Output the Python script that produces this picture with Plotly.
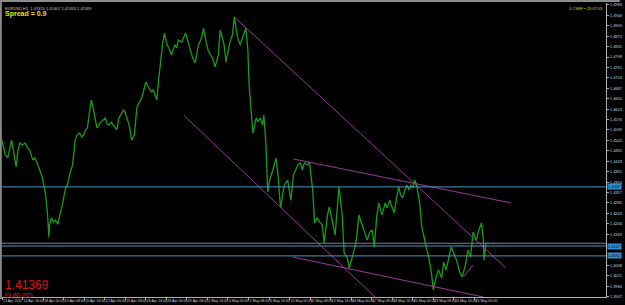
import plotly.graph_objects as go

# ---- data (bar index in H1 bars, price) ----
bars = [0, 3, 5, 9, 12, 15, 19, 22, 25, 28, 32, 36, 40, 43, 48, 51, 56, 60, 63, 68, 71, 73, 74, 77, 80, 83, 87, 90, 94, 99,
        102, 105, 110, 114, 117, 121, 124, 127, 130, 133, 136, 139, 142, 144, 148, 153, 158, 161, 164, 167, 170, 173, 176, 179,
        182, 185, 189, 192, 193, 198, 202, 206, 207, 210, 213, 216, 219, 224, 229, 233, 236, 241, 244, 247, 250, 253, 257, 260,
        264, 269, 272, 275, 280, 286, 291, 294, 297, 301, 306, 311, 314, 318, 321, 325, 328, 332, 337, 340, 343, 346, 349, 352,
        355, 359, 362, 365, 368, 371, 376, 380, 383, 385, 388, 391, 396, 399, 402, 406, 408, 411, 414, 417, 422, 427, 430, 434,
        437, 440, 445, 450, 454, 461, 465, 468, 471, 476, 479, 484, 487, 491, 495, 499, 502, 507, 510, 515, 519, 525, 530, 533,
        538, 541, 546, 550, 553, 556, 561, 566, 569, 573, 577, 580, 584, 587, 592, 597, 600, 604, 607, 611, 615, 618, 621, 624,
        628, 631, 634, 637, 640, 643, 646, 651, 654, 659, 662, 665, 669, 672, 677, 680, 685, 688, 692, 697, 700, 705, 708, 713,
        717, 722, 726, 730, 734, 739, 742, 747, 750, 751, 754]
prices = [1.4503, 1.4468, 1.4450, 1.4440, 1.4468, 1.4503, 1.4450, 1.4408, 1.4468, 1.4493, 1.4486, 1.4493, 1.4475, 1.4468,
          1.4432, 1.4440, 1.4415, 1.4386, 1.4369, 1.4308, 1.4237, 1.4159, 1.4202, 1.4227, 1.4212, 1.4219, 1.4205, 1.4237,
          1.4273, 1.4333, 1.4344, 1.4379, 1.4415, 1.4503, 1.4521, 1.4528, 1.4514, 1.4521, 1.4539, 1.4546, 1.4592, 1.4645,
          1.4617, 1.4592, 1.4546, 1.4564, 1.4574, 1.4582, 1.4560, 1.4557, 1.4567, 1.4557, 1.4546, 1.4539, 1.4582, 1.4592,
          1.4610, 1.4603, 1.4592, 1.4557, 1.4503, 1.4521, 1.4539, 1.4617, 1.4635, 1.4645, 1.4663, 1.4709, 1.4688, 1.4674,
          1.4681, 1.4645, 1.4716, 1.4787, 1.4841, 1.4883, 1.4841, 1.4830, 1.4805, 1.4841, 1.4830, 1.4858, 1.4851, 1.4883,
          1.4841, 1.4816, 1.4795, 1.4777, 1.4841, 1.4866, 1.4901, 1.4851, 1.4823, 1.4805, 1.4795, 1.4763, 1.4805, 1.4894,
          1.4866, 1.4841, 1.4780, 1.4823, 1.4851, 1.4876, 1.4940, 1.4894, 1.4858, 1.4841, 1.4876, 1.4901, 1.4823, 1.4699,
          1.4610, 1.4528, 1.4582, 1.4567, 1.4582, 1.4557, 1.4592, 1.4493, 1.4319, 1.4361, 1.4397, 1.4440, 1.4379, 1.4262,
          1.4308, 1.4344, 1.4361, 1.4290, 1.4379, 1.4415, 1.4422, 1.4397, 1.4422, 1.4415, 1.4425, 1.4326, 1.4209, 1.4227,
          1.4212, 1.4202, 1.4138, 1.4237, 1.4266, 1.4212, 1.4166, 1.4337, 1.4237, 1.4102, 1.4085, 1.4049, 1.4095, 1.4124,
          1.4166, 1.4237, 1.4202, 1.4166, 1.4148, 1.4177, 1.4184, 1.4124, 1.4237, 1.4280, 1.4237, 1.4280, 1.4262, 1.4290,
          1.4273, 1.4244, 1.4301, 1.4337, 1.4308, 1.4298, 1.4326, 1.4344, 1.4326, 1.4344, 1.4333, 1.4361, 1.4344, 1.4273,
          1.4195, 1.4138, 1.4113, 1.4088, 1.4031, 1.3971, 1.4024, 1.4042, 1.4014, 1.4070, 1.4042, 1.4095, 1.4124, 1.4095,
          1.4077, 1.4035, 1.4017, 1.4060, 1.4113, 1.4088, 1.4177, 1.4148, 1.4177, 1.4209, 1.4148, 1.4077, 1.41369]

# trend lines: (bar0, bar1), (price0, price1)
trend_bars = [[362, 785], [283, 581], [454, 793], [453, 750], [719, 734]]
trend_prices = [[1.4940, 1.4049], [1.4592, 1.3946], [1.4436, 1.4280], [1.4088, 1.3946], [1.4017, 1.4060]]

# horizontal levels
level_prices = [1.4337, 1.4127, 1.4092]
bid_price = 1.41369
ask_segment_bars = [754, 774]

# axis labels
x_tick_bars = [0, 32, 64, 96, 128, 160, 192, 224, 256, 288, 320, 352, 384, 416, 448, 480, 512, 544, 576, 608, 640, 672, 704, 736]
x_tick_text = ["13 Apr 2011", "14 Apr 16:00", "18 Apr 00:00", "19 Apr 08:00", "20 Apr 16:00", "22 Apr 00:00",
               "25 Apr 08:00", "26 Apr 16:00", "28 Apr 00:00", "29 Apr 08:00", "2 May 16:00", "4 May 00:00",
               "5 May 08:00", "6 May 16:00", "10 May 00:00", "11 May 08:00", "12 May 16:00", "16 May 00:00",
               "17 May 08:00", "18 May 16:00", "20 May 00:00", "23 May 08:00", "24 May 16:00", "26 May 00:00"]
y_tick_vals = [1.4983, 1.4946, 1.4909, 1.4872, 1.4835, 1.4798, 1.4761, 1.4724, 1.4687, 1.4650, 1.4613, 1.4576, 1.4539,
               1.4502, 1.4465, 1.4428, 1.4391, 1.4354, 1.4317, 1.4280, 1.4243, 1.4206, 1.4169,
               1.4058, 1.4021, 1.3984, 1.3947]

W, H = 625, 305
ML, MR, MT, MB = 2, 14, 3, 8
PW, PH = W - ML - MR, H - MT - MB

fig = go.Figure()
fig.add_trace(go.Scatter(x=bars, y=prices, mode="lines", line=dict(color="#1c9a1c", width=1.3),
                         hoverinfo="skip", showlegend=False))
for tb, tp in zip(trend_bars, trend_prices):
    fig.add_trace(go.Scatter(x=tb, y=tp, mode="lines", line=dict(color="#9a3a9a", width=1),
                             hoverinfo="skip", showlegend=False))
fig.add_trace(go.Scatter(x=ask_segment_bars, y=[bid_price, bid_price], mode="lines",
                         line=dict(color="#8a4ac0", width=1, dash="dot"), hoverinfo="skip", showlegend=False))

shapes = []
for lp in level_prices:
    shapes.append(dict(type="line", xref="paper", yref="y", x0=0, x1=1, y0=lp, y1=lp,
                       line=dict(color="#4f94bd", width=1)))
shapes.append(dict(type="line", xref="paper", yref="y", x0=0, x1=1, y0=bid_price, y1=bid_price,
                   line=dict(color="#6f8290", width=1)))
# frame: top grey band and left grey border
shapes.append(dict(type="rect", xref="paper", yref="paper", x0=-ML / PW, x1=1 + MR / PW,
                   y0=1 + 1 / PH, y1=1 + MT / PH, fillcolor="#8c8c8c", line=dict(width=0)))
shapes.append(dict(type="rect", xref="paper", yref="paper", x0=-ML / PW, x1=-0.2 / PW,
                   y0=-MB / PH + 0.02, y1=1 + MT / PH, fillcolor="#8c8c8c", line=dict(width=0)))

annotations = []
for lp in level_prices:
    annotations.append(dict(xref="paper", yref="y", x=1 + 1 / PW, y=lp, xanchor="left", yanchor="middle",
                            text=f"{lp:.4f}", showarrow=False, bgcolor="#2f8fd8",
                            font=dict(size=4, color="#000000", family="Liberation Sans"), borderpad=0))
annotations += [
    dict(xref="paper", yref="paper", x=0.002, y=1 - 1.5 / PH, xanchor="left", yanchor="top", showarrow=False,
         text="EURUSD,H1  1.41370 1.41407 1.41303 1.41369", font=dict(size=4, color="#c8c8c8", family="Liberation Sans")),
    dict(xref="paper", yref="paper", x=0.002, y=1 - 5 / PH, xanchor="left", yanchor="top", showarrow=False,
         text="<b>Spread = 0.9</b>", font=dict(size=7, color="#e6e600", family="Liberation Sans")),
    dict(xref="paper", yref="paper", x=1 - 1 / PW, y=1 - 1.5 / PH, xanchor="right", yanchor="top", showarrow=False,
         text="4 CSEF • 23:47:53", font=dict(size=4, color="#d8d800", family="Liberation Sans")),
    dict(xref="paper", yref="paper", x=0.002, y=(297 - 276) / PH, xanchor="left", yanchor="top", showarrow=False,
         text="1.41369", font=dict(size=12, color="#e01010", family="Liberation Sans")),
    dict(xref="paper", yref="paper", x=0.002, y=(297 - 290) / PH, xanchor="left", yanchor="top", showarrow=False,
         text="EURUSD", font=dict(size=6.5, color="#e01010", family="Liberation Sans")),
]

fig.update_layout(
    width=W, height=H, margin=dict(l=ML, r=MR, t=MT, b=MB),
    paper_bgcolor="#000000", plot_bgcolor="#000000",
    shapes=shapes, annotations=annotations, showlegend=False,
    xaxis=dict(range=[0, 941], showgrid=False, zeroline=False, showline=True, linecolor="#b0b0b0", linewidth=1,
               ticks="outside", ticklen=2, tickcolor="#b0b0b0", tickvals=x_tick_bars, ticktext=x_tick_text,
               tickangle=0, ticklabelposition="outside right",
               tickfont=dict(size=3.6, color="#d0d0d0", family="Liberation Sans")),
    yaxis=dict(range=[1.39461, 1.49898], side="right", showgrid=False, zeroline=False, showline=True,
               linecolor="#b0b0b0", linewidth=1, ticks="outside", ticklen=2, tickcolor="#b0b0b0",
               tickvals=y_tick_vals, ticktext=[f"{v:.4f}" for v in y_tick_vals],
               tickfont=dict(size=4, color="#d0d0d0", family="Liberation Sans")),
)

fig.write_html("out.html")
